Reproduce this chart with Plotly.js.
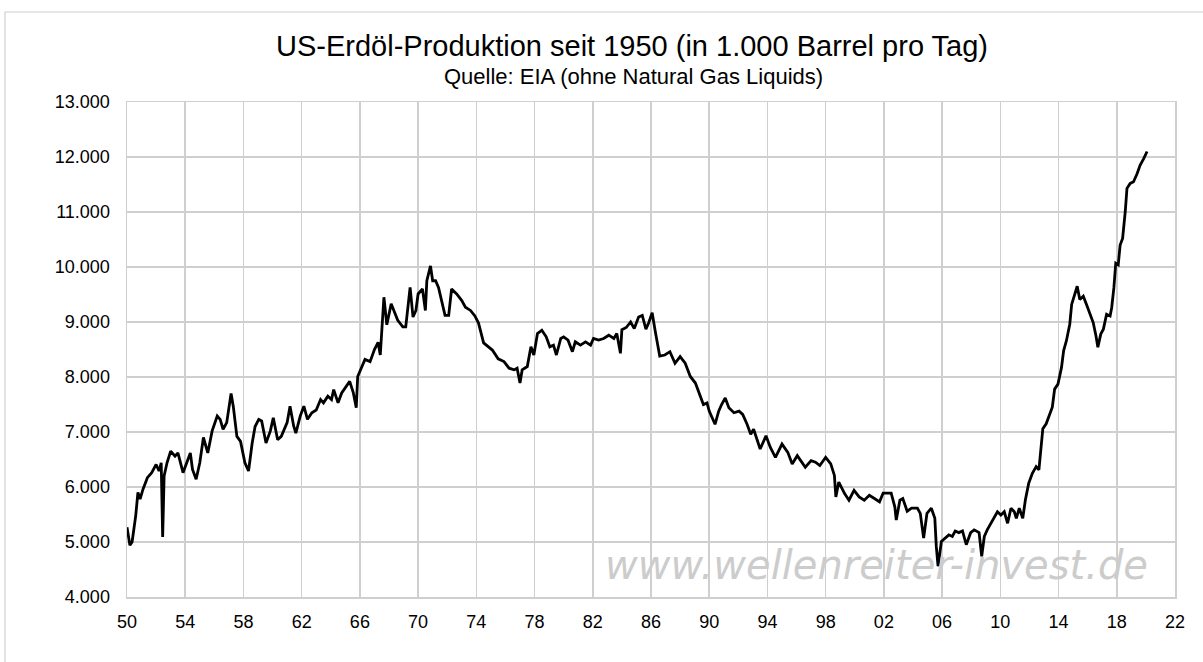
<!DOCTYPE html>
<html>
<head>
<meta charset="utf-8">
<script src="https://cdn.plot.ly/plotly-3.0.1.min.js"></script>
<style>
  html, body { margin: 0; padding: 0; background: #ffffff; }
  #chart { width: 1203px; height: 662px; }
</style>
</head>
<body>
<div id="chart"></div>
<script>
// Decimal year of each reading
const years = [
  1950.0, 1950.2, 1950.35, 1950.6, 1950.75, 1950.9, 1951.1, 1951.4, 1951.7, 1952.0,
  1952.2, 1952.35, 1952.45, 1952.55, 1952.75, 1953.0, 1953.3, 1953.5, 1953.85, 1954.1,
  1954.35, 1954.5, 1954.75, 1955.0, 1955.25, 1955.55, 1955.85, 1956.2, 1956.4, 1956.6,
  1956.85, 1957.15, 1957.3, 1957.55, 1957.8, 1958.1, 1958.35, 1958.6, 1958.8, 1959.05,
  1959.25, 1959.55, 1959.85, 1960.05, 1960.35, 1960.6, 1961.0, 1961.2, 1961.45, 1961.6,
  1961.9, 1962.15, 1962.4, 1962.7, 1963.0, 1963.3, 1963.5, 1963.8, 1964.05, 1964.2,
  1964.5, 1964.75, 1965.05, 1965.3, 1965.55, 1965.75, 1965.85, 1966.1, 1966.35, 1966.7,
  1967.0, 1967.25, 1967.4, 1967.65, 1967.85, 1968.15, 1968.4, 1968.6, 1968.95, 1969.15,
  1969.45, 1969.65, 1969.85, 1970.0, 1970.3, 1970.5, 1970.6, 1970.85, 1971.0, 1971.2,
  1971.4, 1971.65, 1971.85, 1972.1, 1972.3, 1972.65, 1973.0, 1973.25, 1973.6, 1973.9,
  1974.15, 1974.5, 1974.85, 1975.1, 1975.5, 1975.9, 1976.25, 1976.6, 1976.8, 1977.0,
  1977.15, 1977.5, 1977.75, 1977.95, 1978.2, 1978.5, 1978.8, 1979.05, 1979.3, 1979.5,
  1979.8, 1980.0, 1980.3, 1980.6, 1980.8, 1981.15, 1981.5, 1981.85, 1982.05, 1982.4,
  1982.75, 1983.1, 1983.45, 1983.65, 1983.9, 1984.0, 1984.3, 1984.6, 1984.85, 1985.15,
  1985.4, 1985.65, 1985.85, 1986.08, 1986.3, 1986.6, 1986.95, 1987.3, 1987.65, 1988.0,
  1988.35, 1988.7, 1989.05, 1989.3, 1989.6, 1989.85, 1990.0, 1990.4, 1990.65, 1990.85,
  1991.1, 1991.35, 1991.7, 1992.05, 1992.3, 1992.6, 1992.85, 1993.05, 1993.5, 1993.9,
  1994.2, 1994.55, 1995.0, 1995.4, 1995.7, 1996.05, 1996.4, 1996.6, 1997.0, 1997.3,
  1997.6, 1998.0, 1998.35, 1998.6, 1998.7, 1998.9, 1999.3, 1999.6, 1999.95, 2000.3,
  2000.65, 2001.0, 2001.35, 2001.7, 2001.95, 2002.5, 2002.75, 2002.85, 2003.1, 2003.3,
  2003.6, 2003.9, 2004.3, 2004.5, 2004.73, 2004.96, 2005.26, 2005.5, 2005.6, 2005.72,
  2005.95, 2006.23, 2006.46, 2006.7, 2006.9, 2007.15, 2007.4, 2007.66, 2007.96, 2008.2,
  2008.54, 2008.72, 2008.9, 2009.1, 2009.35, 2009.56, 2009.8, 2010.04, 2010.27, 2010.5,
  2010.73, 2010.96, 2011.1, 2011.3, 2011.54, 2011.72, 2011.95, 2012.2, 2012.46, 2012.65,
  2012.8, 2012.92, 2013.15, 2013.4, 2013.57, 2013.73, 2013.96, 2014.2, 2014.35, 2014.54,
  2014.77, 2014.9, 2015.1, 2015.28, 2015.46, 2015.7, 2015.92, 2016.15, 2016.38, 2016.57,
  2016.7, 2016.9, 2017.08, 2017.3, 2017.54, 2017.65, 2017.8, 2017.93, 2018.1, 2018.23,
  2018.4, 2018.58, 2018.7, 2018.92, 2019.15, 2019.4, 2019.6, 2019.85, 2020.08
];

// US crude oil production, 1,000 barrels per day
const production = [
  5270, 4940, 5000, 5480, 5900, 5780, 5960, 6170, 6260, 6410,
  6290, 6440, 5090, 6200, 6440, 6650, 6560, 6620, 6260, 6440,
  6620, 6320, 6140, 6440, 6900, 6620, 7020, 7290, 7230, 7050,
  7170, 7700, 7470, 6920, 6830, 6440, 6290, 6800, 7100, 7230,
  7200, 6800, 7020, 7260, 6860, 6920, 7170, 7470, 7110, 6980,
  7290, 7470, 7230, 7350, 7400, 7590, 7530, 7650, 7590, 7770,
  7530, 7710, 7830, 7920, 7710, 7440, 8010, 8150, 8320, 8280,
  8500, 8630, 8400, 9450, 8950, 9330, 9180, 9030, 8910, 8910,
  9630, 9090, 9210, 9510, 9600, 9210, 9750, 10020, 9750, 9750,
  9630, 9330, 9120, 9120, 9600, 9510, 9390, 9270, 9210, 9110,
  8980, 8620, 8550, 8490, 8330, 8280, 8160, 8130, 8160, 7890,
  8130, 8190, 8550, 8400, 8790, 8850, 8730, 8550, 8580, 8400,
  8700, 8730, 8670, 8460, 8640, 8580, 8640, 8580, 8700, 8670,
  8700, 8760, 8700, 8790, 8430, 8860, 8900, 9000, 8880, 9090,
  9120, 8870, 8990, 9170, 8820, 8380, 8400, 8460, 8250, 8370,
  8250, 8010, 7890, 7710, 7500, 7530, 7380, 7140, 7380, 7500,
  7620, 7440, 7350, 7380, 7320, 7140, 6960, 7050, 6690, 6930,
  6720, 6540, 6780, 6630, 6420, 6570, 6450, 6360, 6480, 6450,
  6390, 6540, 6420, 6210, 5820, 6090, 5880, 5760, 5940, 5820,
  5760, 5850, 5790, 5730, 5890, 5890, 5640, 5400, 5760, 5790,
  5560, 5615, 5615, 5520, 5070, 5520, 5615, 5430, 4920, 4560,
  5010, 5070, 5130, 5100, 5200, 5170, 5200, 4950, 5170, 5220,
  5170, 4740, 5100, 5220, 5340, 5430, 5550, 5490, 5550, 5340,
  5615, 5550, 5430, 5615, 5430, 5765, 6070, 6250, 6370, 6310,
  6670, 7060, 7150, 7330, 7450, 7780, 7870, 8170, 8480, 8660,
  8960, 9320, 9500, 9650, 9410, 9470, 9320, 9170, 8990, 8750,
  8540, 8780, 8870, 9140, 9110, 9260, 9620, 10070, 10040, 10400,
  10520, 11000, 11430, 11520, 11550, 11700, 11850, 11970, 12100
];

const xTickVals = [1950, 1954, 1958, 1962, 1966, 1970, 1974, 1978, 1982, 1986, 1990, 1994, 1998, 2002, 2006, 2010, 2014, 2018, 2022];
const xTickText = ['50', '54', '58', '62', '66', '70', '74', '78', '82', '86', '90', '94', '98', '02', '06', '10', '14', '18', '22'];
const yTickVals = [4000, 5000, 6000, 7000, 8000, 9000, 10000, 11000, 12000, 13000];
const yTickText = ['4.000', '5.000', '6.000', '7.000', '8.000', '9.000', '10.000', '11.000', '12.000', '13.000'];

const titleText = 'US-Erdöl-Produktion seit 1950 (in 1.000 Barrel pro Tag)';
const subtitleText = 'Quelle: EIA (ohne Natural Gas Liquids)';
const watermarkText = 'www.wellenreiter-invest.de';

const sans = '"Liberation Sans", Arial, sans-serif';

const trace = {
  x: years,
  y: production,
  type: 'scatter',
  mode: 'lines',
  line: { color: '#000000', width: 2.8 },
  hoverinfo: 'x+y',
  showlegend: false
};

const layout = {
  width: 1203,
  height: 662,
  margin: { l: 127, r: 28, t: 102, b: 65 },
  paper_bgcolor: '#ffffff',
  plot_bgcolor: '#ffffff',
  title: {
    text: titleText,
    font: { family: sans, size: 29, color: '#000000' },
    x: 632 / 1203, xanchor: 'center',
    y: 1 - 46 / 662, yanchor: 'middle',
    xref: 'container', yref: 'container'
  },
  xaxis: {
    range: [1950, 2022],
    tickvals: xTickVals,
    ticktext: xTickText,
    showgrid: true,
    gridcolor: '#cfcfcf',
    gridwidth: 1.5,
    zeroline: false,
    showline: true,
    linecolor: '#cfcfcf',
    linewidth: 1.5,
    mirror: true,
    ticks: '',
    ticklabelstandoff: 8,
    tickfont: { family: sans, size: 18, color: '#000000' },
    fixedrange: true
  },
  yaxis: {
    range: [4000, 13000],
    tickvals: yTickVals,
    ticktext: yTickText,
    showgrid: true,
    gridcolor: '#cfcfcf',
    gridwidth: 1.5,
    zeroline: false,
    showline: true,
    linecolor: '#cfcfcf',
    linewidth: 1.5,
    mirror: true,
    ticks: '',
    ticklabelstandoff: 12,
    tickfont: { family: sans, size: 18, color: '#000000' },
    fixedrange: true
  },
  annotations: [
    {
      text: subtitleText,
      xref: 'paper', yref: 'paper',
      x: (633 - 127) / 1048, y: (597 - 77) / 495,
      xanchor: 'center', yanchor: 'middle',
      showarrow: false,
      font: { family: sans, size: 22, color: '#000000' }
    },
    {
      text: '<i>' + watermarkText + '</i>',
      xref: 'paper', yref: 'paper',
      x: (876 - 127) / 1048, y: (597 - 565) / 495,
      xanchor: 'center', yanchor: 'middle',
      showarrow: false,
      font: { family: '"DejaVu Sans", Verdana, sans-serif', size: 40, color: '#cccccc' }
    }
  ],
  shapes: [
    {
      type: 'rect', xref: 'paper', yref: 'paper',
      x0: (5 - 127) / 1048, x1: 1.2,
      y0: -0.3, y1: (597 - 12) / 495,
      line: { color: '#d0d0d0', width: 1.2 },
      fillcolor: 'rgba(0,0,0,0)',
      layer: 'below'
    }
  ]
};

Plotly.newPlot('chart', [trace], layout, { displayModeBar: false, staticPlot: true });
</script>
</body>
</html>
